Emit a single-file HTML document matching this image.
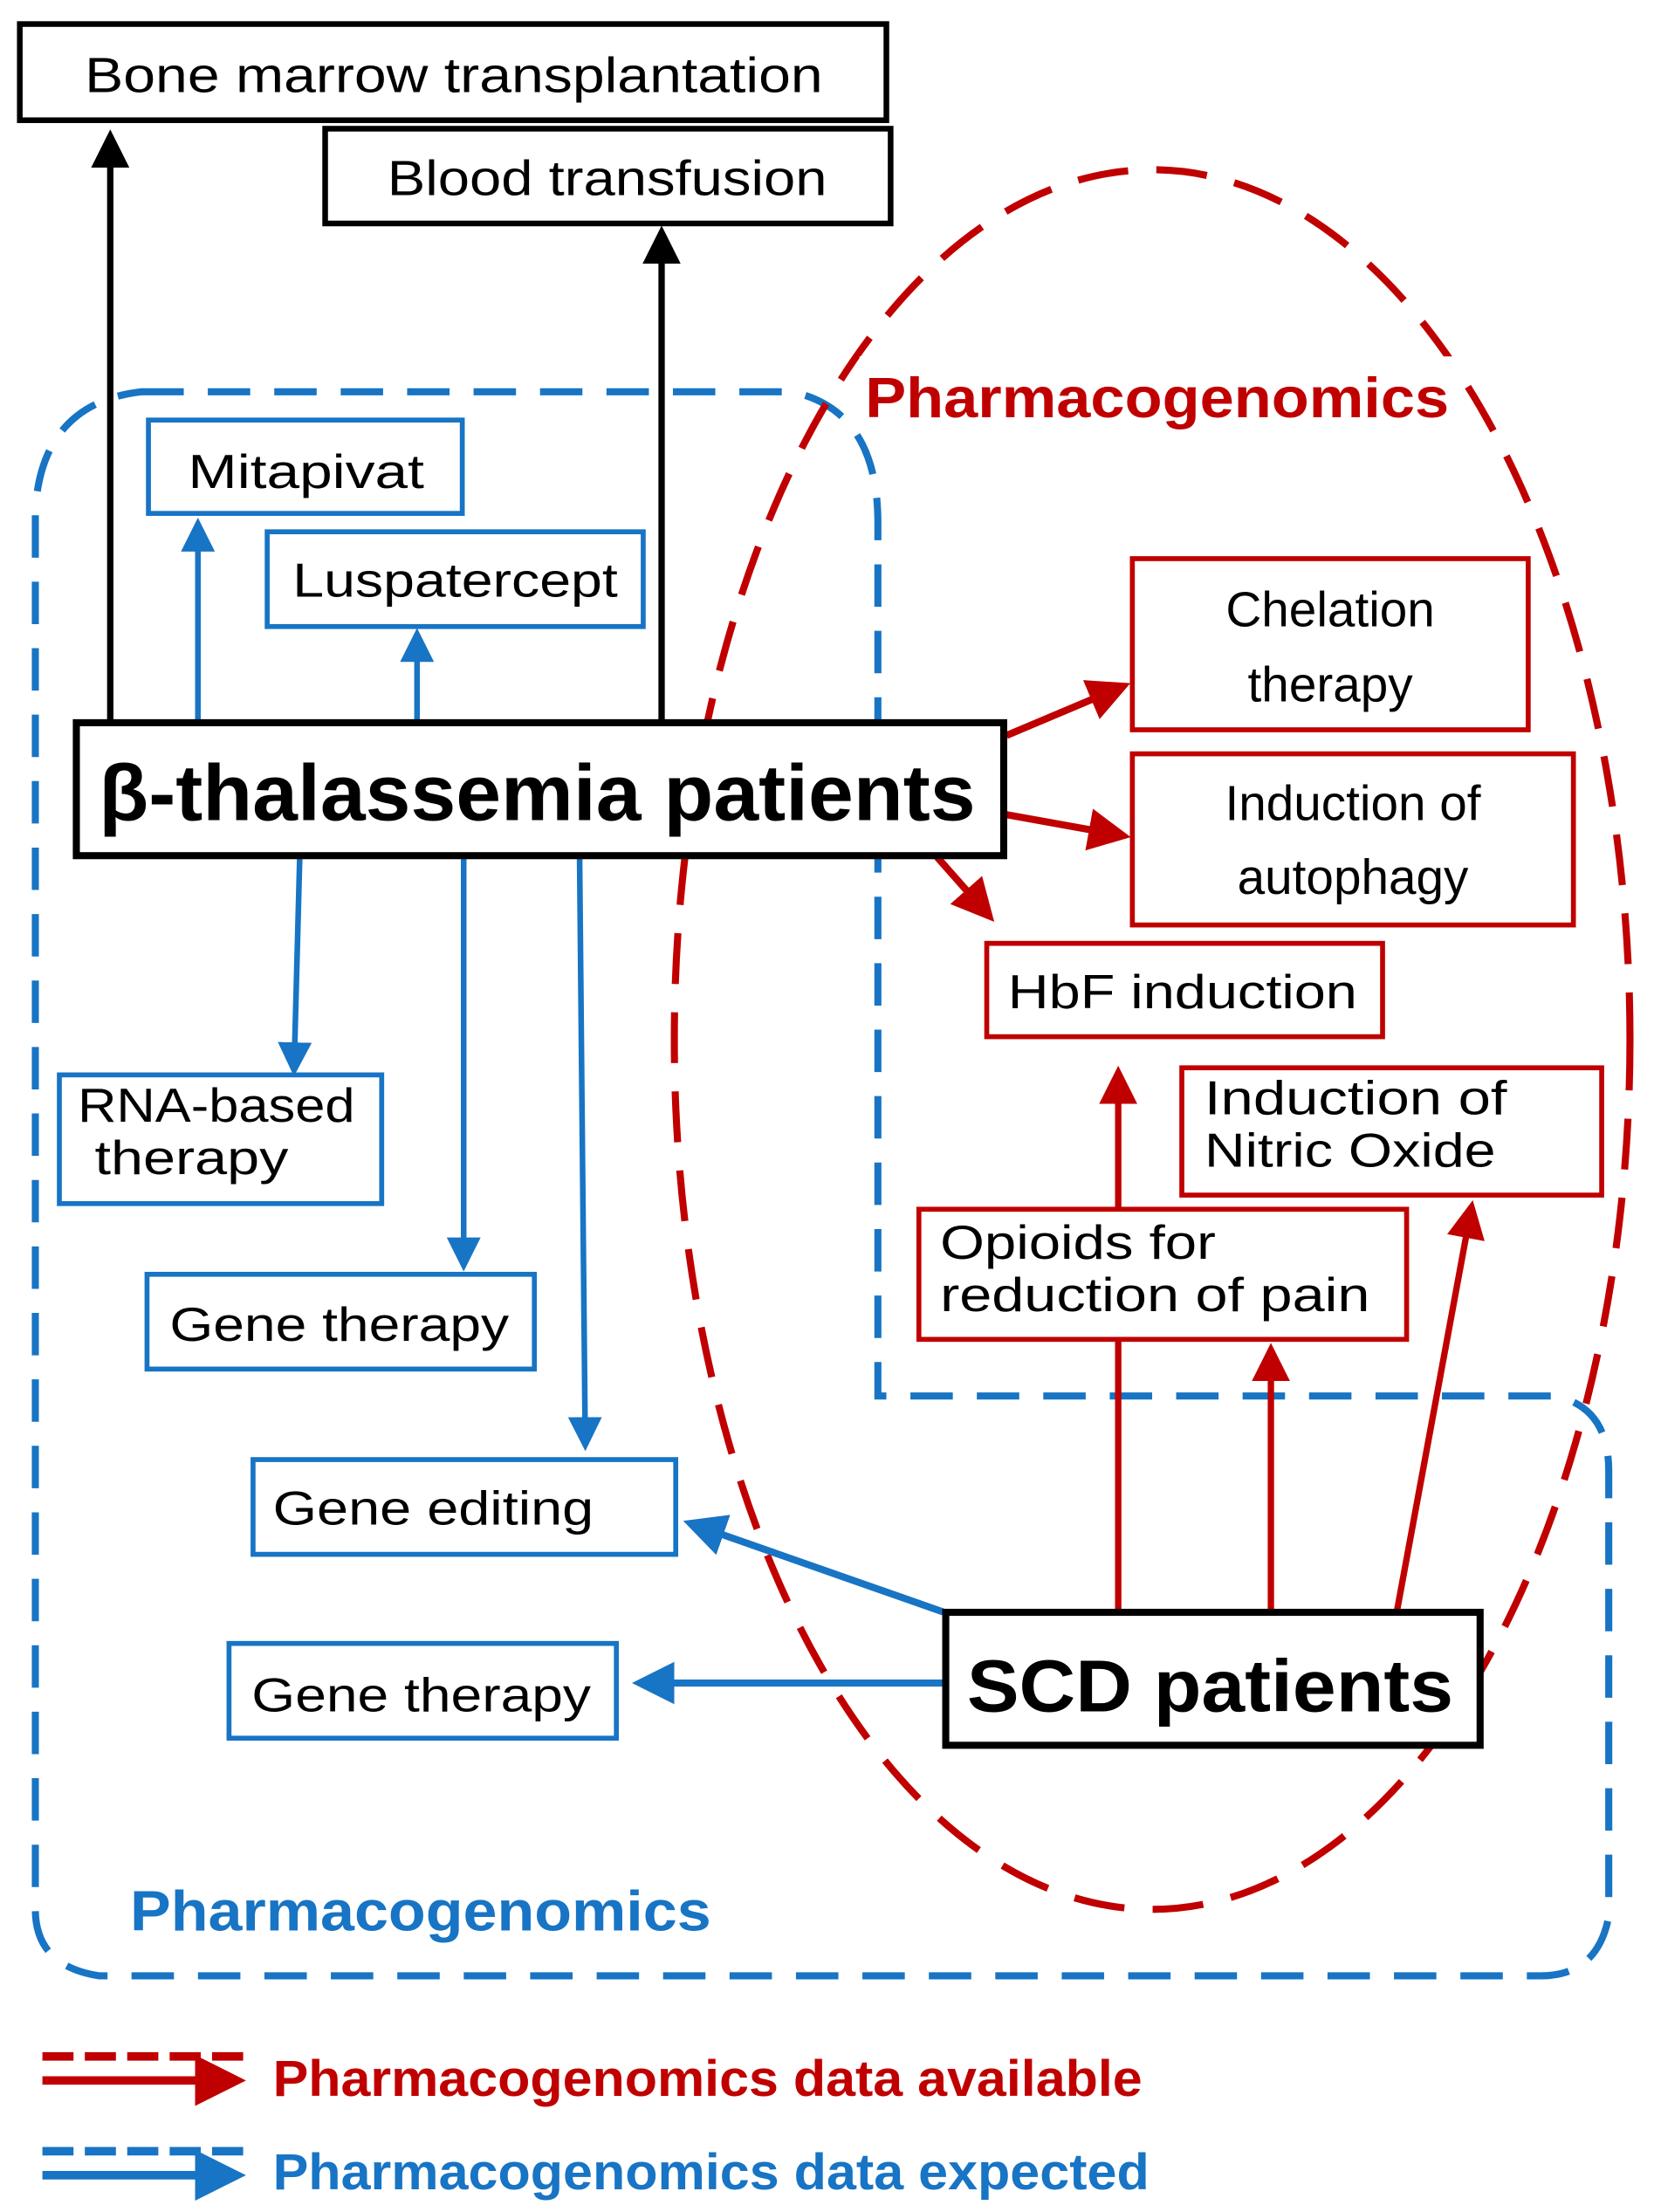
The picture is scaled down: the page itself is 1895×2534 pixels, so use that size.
<!DOCTYPE html>
<html><head><meta charset="utf-8"><style>html,body{margin:0;padding:0;background:#fff}svg{display:block}</style></head>
<body>
<svg width="1895" height="2534" viewBox="0 0 1170 1564" preserveAspectRatio="none" xmlns="http://www.w3.org/2000/svg" font-family="Liberation Sans, sans-serif">
<defs>
<marker id="ak" markerWidth="6" markerHeight="6" refX="5" refY="3" orient="auto" markerUnits="strokeWidth"><path d="M0,0 L6,3 L0,6 z" fill="#000"/></marker>
<marker id="ab" markerWidth="6" markerHeight="6" refX="5" refY="3" orient="auto" markerUnits="strokeWidth"><path d="M0,0 L6,3 L0,6 z" fill="#1874c4"/></marker>
<marker id="ar" markerWidth="6" markerHeight="6" refX="5" refY="3" orient="auto" markerUnits="strokeWidth"><path d="M0,0 L6,3 L0,6 z" fill="#c00000"/></marker>
</defs>
<rect width="1170" height="1564" fill="#fff"/>
<!-- blue dashed region -->
<path d="M100,277 L560,277 Q621,290 621,370 L621,987 L1100,987 Q1138,995 1138,1040 L1138,1355 Q1130,1397 1090,1397 L70,1397 Q25,1390 25,1350 L25,360 Q30,285 100,277 Z" fill="none" stroke="#1874c4" stroke-width="5" stroke-dasharray="30 17"/>
<!-- red dashed ellipse -->
<ellipse cx="815" cy="735" rx="338" ry="615" fill="none" stroke="#c00000" stroke-width="5" stroke-dasharray="36 20"/>
<rect x="608" y="252" width="422" height="50" fill="#fff"/>
<text x="612" y="295" font-size="40" font-weight="bold" fill="#c00000" textLength="413" lengthAdjust="spacingAndGlyphs">Pharmacogenomics</text>
<!-- black arrows -->
<line x1="78" y1="510" x2="78" y2="96" stroke="#000" stroke-width="4.5" marker-end="url(#ak)"/>
<line x1="468" y1="510" x2="468" y2="164" stroke="#000" stroke-width="4.5" marker-end="url(#ak)"/>
<!-- top boxes -->
<rect x="14" y="17" width="613" height="68" fill="#fff" stroke="#000" stroke-width="4"/>
<text x="60" y="65" font-size="35" textLength="522" lengthAdjust="spacingAndGlyphs">Bone marrow transplantation</text>
<rect x="230" y="91" width="400" height="67" fill="#fff" stroke="#000" stroke-width="4"/>
<text x="274" y="138" font-size="35" textLength="311" lengthAdjust="spacingAndGlyphs">Blood transfusion</text>
<!-- blue arrows up -->
<line x1="140" y1="510" x2="140" y2="370" stroke="#1874c4" stroke-width="4" marker-end="url(#ab)"/>
<line x1="295" y1="510" x2="295" y2="448" stroke="#1874c4" stroke-width="4" marker-end="url(#ab)"/>
<rect x="105" y="297" width="222" height="66" fill="#fff" stroke="#1874c4" stroke-width="3.5"/>
<text x="133" y="345" font-size="34" textLength="167" lengthAdjust="spacingAndGlyphs">Mitapivat</text>
<rect x="189" y="376" width="266" height="67" fill="#fff" stroke="#1874c4" stroke-width="3.5"/>
<text x="207" y="422" font-size="34" textLength="230" lengthAdjust="spacingAndGlyphs">Luspatercept</text>
<!-- red arrows from beta -->
<line x1="712" y1="520" x2="795" y2="485" stroke="#c00000" stroke-width="5" marker-end="url(#ar)"/>
<line x1="712" y1="576" x2="795" y2="591" stroke="#c00000" stroke-width="5" marker-end="url(#ar)"/>
<line x1="662" y1="605" x2="700" y2="648" stroke="#c00000" stroke-width="5" marker-end="url(#ar)"/>
<!-- blue arrows down -->
<line x1="212" y1="607" x2="208" y2="757" stroke="#1874c4" stroke-width="4" marker-end="url(#ab)"/>
<line x1="328" y1="607" x2="328" y2="895" stroke="#1874c4" stroke-width="4" marker-end="url(#ab)"/>
<line x1="410" y1="607" x2="414" y2="1022" stroke="#1874c4" stroke-width="4" marker-end="url(#ab)"/>
<!-- beta box -->
<rect x="54" y="511" width="656" height="94" fill="#fff" stroke="#000" stroke-width="5"/>
<text x="70" y="580" font-size="56" font-weight="bold" textLength="620" lengthAdjust="spacingAndGlyphs">β-thalassemia patients</text>
<!-- red arrows from SCD -->
<line x1="791" y1="1140" x2="791" y2="758" stroke="#c00000" stroke-width="4.5" marker-end="url(#ar)"/>
<line x1="899" y1="1140" x2="899" y2="954" stroke="#c00000" stroke-width="4.5" marker-end="url(#ar)"/>
<line x1="988" y1="1140" x2="1041" y2="853" stroke="#c00000" stroke-width="4.5" marker-end="url(#ar)"/>
<!-- red boxes -->
<rect x="801" y="395" width="280" height="121" fill="#fff" stroke="#c00000" stroke-width="3.5"/>
<text x="941" y="443" font-size="35" text-anchor="middle">Chelation</text>
<text x="941" y="496" font-size="35" text-anchor="middle">therapy</text>
<rect x="801" y="533" width="312" height="121" fill="#fff" stroke="#c00000" stroke-width="3.5"/>
<text x="957" y="580" font-size="35" text-anchor="middle">Induction of</text>
<text x="957" y="632" font-size="35" text-anchor="middle">autophagy</text>
<rect x="698" y="667" width="280" height="66" fill="#fff" stroke="#c00000" stroke-width="3.5"/>
<text x="713" y="713" font-size="34" textLength="247" lengthAdjust="spacingAndGlyphs">HbF induction</text>
<rect x="836" y="755" width="297" height="90" fill="#fff" stroke="#c00000" stroke-width="3.5"/>
<text x="852" y="788" font-size="34" textLength="214" lengthAdjust="spacingAndGlyphs">Induction of</text>
<text x="852" y="825" font-size="34" textLength="206" lengthAdjust="spacingAndGlyphs">Nitric Oxide</text>
<rect x="650" y="855" width="345" height="92" fill="#fff" stroke="#c00000" stroke-width="3.5"/>
<text x="665" y="890" font-size="34" textLength="195" lengthAdjust="spacingAndGlyphs">Opioids for</text>
<text x="665" y="927" font-size="34" textLength="304" lengthAdjust="spacingAndGlyphs">reduction of pain</text>
<!-- blue boxes -->
<rect x="42" y="760" width="228" height="91" fill="#fff" stroke="#1874c4" stroke-width="3.5"/>
<text x="55" y="793" font-size="34" textLength="196" lengthAdjust="spacingAndGlyphs">RNA-based</text>
<text x="67" y="830" font-size="34" textLength="137" lengthAdjust="spacingAndGlyphs">therapy</text>
<rect x="104" y="901" width="274" height="67" fill="#fff" stroke="#1874c4" stroke-width="3.5"/>
<text x="120" y="948" font-size="34" textLength="240" lengthAdjust="spacingAndGlyphs">Gene therapy</text>
<!-- blue arrows from SCD -->
<line x1="668" y1="1140" x2="488" y2="1077" stroke="#1874c4" stroke-width="5" marker-end="url(#ab)"/>
<line x1="668" y1="1190" x2="452" y2="1190" stroke="#1874c4" stroke-width="5" marker-end="url(#ab)"/>
<rect x="179" y="1032" width="299" height="67" fill="#fff" stroke="#1874c4" stroke-width="3.5"/>
<text x="193" y="1078" font-size="34" textLength="227" lengthAdjust="spacingAndGlyphs">Gene editing</text>
<rect x="162" y="1162" width="274" height="67" fill="#fff" stroke="#1874c4" stroke-width="3.5"/>
<text x="178" y="1210" font-size="34" textLength="240" lengthAdjust="spacingAndGlyphs">Gene therapy</text>
<!-- SCD -->
<rect x="669" y="1140" width="378" height="94" fill="#fff" stroke="#000" stroke-width="5"/>
<text x="684" y="1210" font-size="52" font-weight="bold" textLength="344" lengthAdjust="spacingAndGlyphs">SCD patients</text>
<text x="92" y="1365" font-size="40" font-weight="bold" fill="#1874c4" textLength="411" lengthAdjust="spacingAndGlyphs">Pharmacogenomics</text>
<!-- legend -->
<line x1="30" y1="1454" x2="175" y2="1454" stroke="#c00000" stroke-width="6" stroke-dasharray="22 8"/>
<line x1="30" y1="1471" x2="168" y2="1471" stroke="#c00000" stroke-width="6" marker-end="url(#ar)"/>
<text x="193" y="1482" font-size="36" font-weight="bold" fill="#c00000" textLength="615" lengthAdjust="spacingAndGlyphs">Pharmacogenomics data available</text>
<line x1="30" y1="1521" x2="175" y2="1521" stroke="#1874c4" stroke-width="6" stroke-dasharray="22 8"/>
<line x1="30" y1="1538" x2="168" y2="1538" stroke="#1874c4" stroke-width="6" marker-end="url(#ab)"/>
<text x="193" y="1548" font-size="36" font-weight="bold" fill="#1874c4" textLength="620" lengthAdjust="spacingAndGlyphs">Pharmacogenomics data expected</text>
</svg>
</body></html>
